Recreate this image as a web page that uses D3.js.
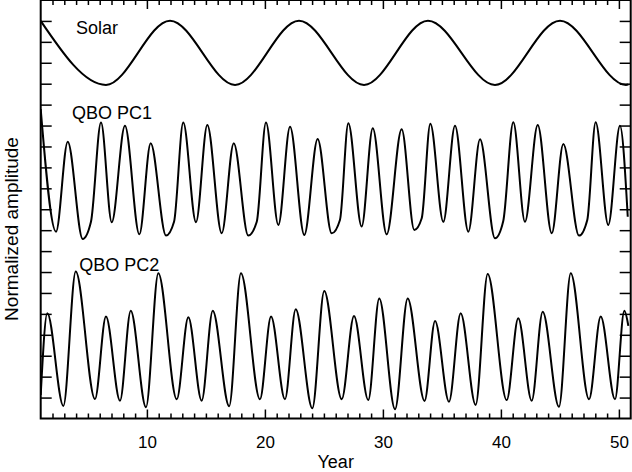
<!DOCTYPE html>
<html>
<head>
<meta charset="utf-8">
<script src="https://cdn.jsdelivr.net/npm/d3@7"></script>
<style>
  body { margin: 0; background: #fff; }
  svg text { font-family: "Liberation Sans", Arial, sans-serif; fill: #000; }
</style>
</head>
<body>
<svg id="chart" width="632" height="472"></svg>
<script>
// series: [year, normalized amplitude]
const solar = [
  [1.00, 19.00], [6.53, 15.94], [11.96, 19.01], [17.47, 15.94], [22.89, 19.01],
  [28.40, 15.94], [33.82, 19.01], [39.50, 15.94], [45.01, 19.01], [50.60, 15.94],
  [50.80, 15.96]
]
const qboPC1 = [
  [1.00, 14.79], [2.30, 8.93], [3.29, 13.23], [4.56, 8.58], [5.26, 9.40],
  [6.11, 14.14], [7.02, 9.38], [8.14, 13.99], [9.36, 8.80], [10.32, 13.15],
  [11.62, 8.74], [12.30, 9.40], [13.08, 14.14], [14.16, 9.38], [15.12, 14.03],
  [16.34, 8.85], [17.36, 13.16], [18.59, 8.74], [19.31, 9.40], [20.09, 14.14],
  [21.14, 9.25], [22.13, 13.94], [23.34, 8.77], [24.47, 13.36], [25.66, 8.85],
  [26.36, 9.49], [27.07, 14.11], [28.20, 9.17], [29.14, 13.87], [30.32, 8.80],
  [31.59, 13.82], [32.66, 9.01], [33.29, 9.57], [34.02, 14.09], [35.12, 9.40],
  [36.11, 13.99], [37.24, 8.93], [38.23, 13.34], [39.50, 8.61], [40.20, 9.44],
  [41.05, 14.16], [42.04, 9.40], [43.12, 14.03], [44.31, 8.85], [45.29, 13.12],
  [46.62, 8.74], [47.32, 9.49], [48.03, 14.16], [49.10, 9.25], [50.09, 13.99],
  [50.75, 9.64]
]
const qboPC2 = [
  [1.00, 1.12], [1.56, 5.03], [2.92, 0.60], [3.97, 7.02], [5.60, 0.93],
  [6.53, 4.87], [7.72, 0.85], [8.63, 5.15], [9.92, 0.54], [10.97, 6.94],
  [12.53, 0.92], [13.51, 4.84], [14.64, 0.85], [15.58, 5.15], [16.97, 0.59],
  [17.97, 6.94], [19.58, 0.92], [20.52, 4.87], [21.70, 0.92], [22.61, 5.22],
  [24.02, 0.49], [25.03, 6.09], [26.51, 0.92], [27.55, 4.90], [28.76, 0.88],
  [29.69, 5.74], [31.03, 0.44], [32.10, 5.74], [33.53, 0.84], [34.42, 4.66],
  [35.60, 0.80], [36.59, 5.03], [37.86, 0.65], [38.88, 6.91], [40.49, 0.88],
  [41.47, 4.79], [42.61, 0.85], [43.54, 5.10], [44.92, 0.56], [45.92, 6.94],
  [47.47, 0.92], [48.46, 4.87], [49.67, 0.92], [50.46, 5.15], [50.80, 4.43]
]
const seriesNames = ["Solar", "QBO PC1", "QBO PC2"]
const labelAt = [[3.99, 18.38], [3.65, 14.30], [4.27, 7.06]]
const majorYears = [10, 20, 30, 40, 50]

const svg = d3.select("#chart")
const x = d3.scaleLinear().domain([1, 51]).range([40.7, 630.7])
const y = d3.scaleLinear().domain([0, 20]).range([418.5, 0])

let line = d3.line().x(d => x(d[0])).y(d => y(d[1])).curve(d3.curveMonotoneX)

svg.append("clipPath").attr("id", "plot")
  .append("rect").attr("x", x(1)).attr("y", y(20)).attr("width", x(51) - x(1)).attr("height", y(0) - y(20))

const plot = svg.append("g").attr("clip-path", "url(#plot)")
;[solar, qboPC1, qboPC2].forEach(s => {
  plot.append("path").datum(s)
    .attr("d", line)
    .attr("fill", "none")
    .attr("stroke", "#000")
    .attr("stroke-width", 2)
})

// axes, ticks pointing inward
const minorYears = d3.range(2, 51).filter(v => v % 10 != 0)
const addAxis = (axis, tx, ty) => {
  const g = svg.append("g").attr("transform", `translate(${tx},${ty})`).call(axis)
  g.select(".domain").remove()
  g.selectAll(".tick line").attr("stroke-width", 1.5)
  return g
}
addAxis(d3.axisBottom(x).tickValues(minorYears).tickSize(-5).tickFormat(""), 0, y(0))
addAxis(d3.axisTop(x).tickValues(minorYears).tickSize(-5).tickFormat(""), 0, y(20))
addAxis(d3.axisTop(x).tickValues(majorYears).tickSize(-9).tickFormat(""), 0, y(20))
addAxis(d3.axisLeft(y).tickValues(d3.range(1, 20)).tickSize(-11).tickFormat(""), x(1), 0)
addAxis(d3.axisRight(y).tickValues(d3.range(1, 20)).tickSize(-11).tickFormat(""), x(51), 0)
addAxis(d3.axisBottom(x).tickValues(majorYears).tickSize(-9).tickPadding(17.5), 0, y(0))
  .selectAll("text").style("font-size", "17px")

svg.append("rect")
  .attr("x", x(1)).attr("y", y(20))
  .attr("width", x(51) - x(1)).attr("height", y(0) - y(20))
  .attr("fill", "none").attr("stroke", "#000").attr("stroke-width", 2)

svg.selectAll(".series-label")
  .data(seriesNames)
  .enter()
  .append("text")
  .attr("x", (d, i) => x(labelAt[i][0]))
  .attr("y", (d, i) => y(labelAt[i][1]))
  .style("font-size", "18px")
  .text(d => d)

svg.append("text")
  .attr("x", (x(1) + x(51)) / 2).attr("y", 468)
  .attr("text-anchor", "middle").style("font-size", "18px")
  .text("Year")

svg.append("text")
  .attr("transform", "translate(18,229) rotate(-90)")
  .attr("text-anchor", "middle").style("font-size", "19px")
  .text("Normalized amplitude")
</script>
</body>
</html>
